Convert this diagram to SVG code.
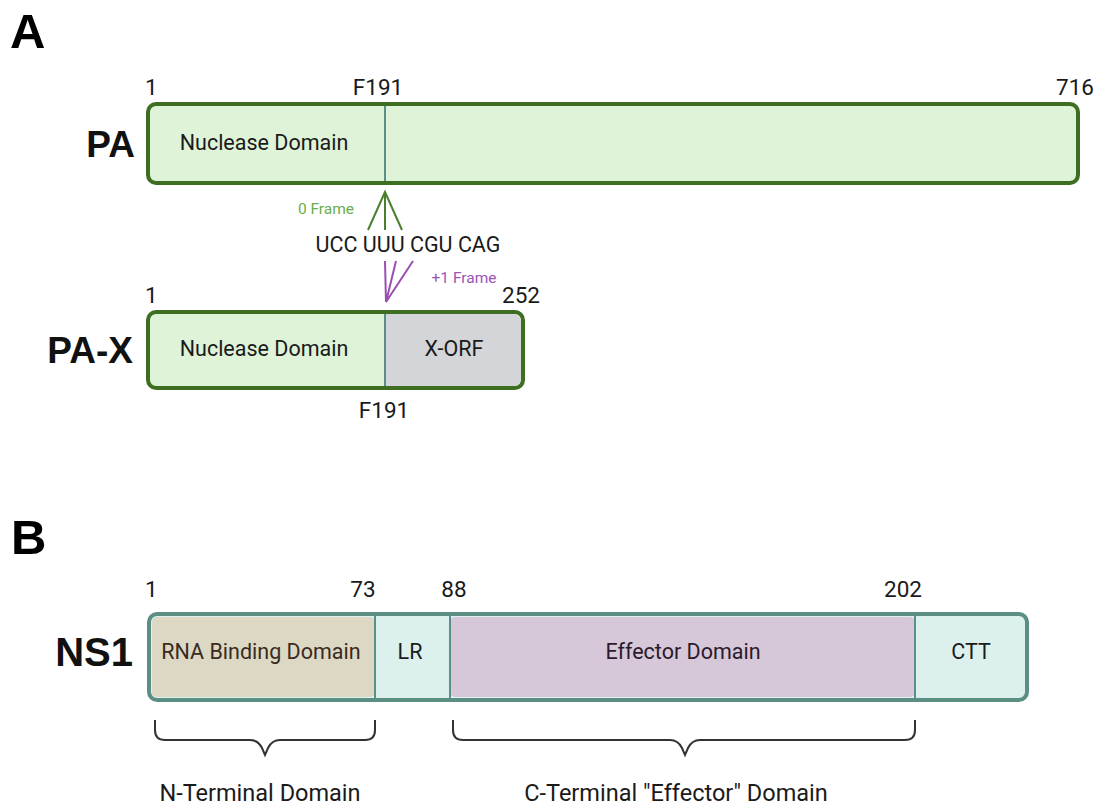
<svg xmlns="http://www.w3.org/2000/svg" width="1100" height="806" viewBox="0 0 1100 806">
<style>
text{font-family:Roboto,"Liberation Sans",sans-serif;fill:#1a1a1a}
.big{font-family:"Liberation Sans",Arial,sans-serif;font-weight:bold;font-size:49px;fill:#000}
.name{font-family:"Liberation Sans",Arial,sans-serif;font-weight:bold;fill:#111}
.num{font-size:22.5px}
.dom{font-size:21.5px}
.pa{stroke:#3d6e22;stroke-width:4}
.ns{stroke:#5b8f84;stroke-width:4}
.div{stroke:#5b8f8a;stroke-width:2}
.brace{fill:none;stroke:#333;stroke-width:2}
</style>
<text class="big" x="10" y="48">A</text>
<text class="big" x="11" y="554">B</text>

<g id="PA">
<text class="name" x="135" y="157" text-anchor="end" font-size="37">PA</text>
<rect x="148" y="104" width="930" height="79" rx="8" fill="#dff3d9" class="pa"/>
<line x1="385" y1="106" x2="385" y2="181" class="div"/>
<text class="dom" x="264" y="150" text-anchor="middle">Nuclease Domain</text>
<text class="num" x="145" y="95">1</text>
<text class="num" x="378" y="95" text-anchor="middle">F191</text>
<text class="num" x="1094" y="95" text-anchor="end">716</text>
</g>

<g id="PA-X">
<text class="name" x="133" y="363" text-anchor="end" font-size="37">PA-X</text>
<rect x="148" y="312" width="375" height="76" rx="8" fill="#dff3d9" class="pa"/>
<path d="M385,314 H513 a8,8 0 0 1 8,8 V378 a8,8 0 0 1 -8,8 H385 Z" fill="#d3d5d8"/>
<line x1="385" y1="314" x2="385" y2="386" class="div"/>
<text class="dom" x="264" y="356" text-anchor="middle">Nuclease Domain</text>
<text class="dom" x="454" y="356" text-anchor="middle">X-ORF</text>
<text class="num" x="145" y="303">1</text>
<text class="num" x="521" y="303" text-anchor="middle">252</text>
<text class="num" x="384" y="418" text-anchor="middle">F191</text>
</g>

<g id="codons">
<text x="408" y="252" text-anchor="middle" font-size="21.5">UCC UUU CGU CAG</text>
<text x="326" y="214" text-anchor="middle" font-size="15.5" style="fill:#6aae4a">0 Frame</text>
<text x="464" y="283" text-anchor="middle" font-size="15.5" style="fill:#9a55b5">+1 Frame</text>
</g>

<g id="connectors">
<path d="M368,230 L385,192 L402,230 M385,192 V230" fill="none" stroke="#4a7f2e" stroke-width="2"/>
<path d="M385,261 L386,302 M396,261 L386,302 M413,261 L386,302" fill="none" stroke="#9a4fb0" stroke-width="2"/>
</g>

<g id="NS1">
<text class="name" x="133" y="666" text-anchor="end" font-size="40">NS1</text>
<rect x="149" y="614" width="878" height="86" rx="8" fill="#dcf1ee" class="ns"/>
<rect x="152" y="617" width="223" height="80" rx="5" fill="#dcd8c4"/>
<rect x="450" y="617" width="465" height="80" rx="5" fill="#d6c7d9"/>
<line x1="375" y1="616" x2="375" y2="698" class="div"/>
<line x1="450" y1="616" x2="450" y2="698" class="div"/>
<line x1="915" y1="616" x2="915" y2="698" class="div"/>
<text class="dom" x="261" y="659" text-anchor="middle" style="fill:#3a2a20">RNA Binding Domain</text>
<text class="dom" x="410" y="659" text-anchor="middle">LR</text>
<text class="dom" x="683" y="659" text-anchor="middle" style="fill:#2a1a2a">Effector Domain</text>
<text class="dom" x="971" y="659" text-anchor="middle">CTT</text>
<text class="num" x="145" y="597">1</text>
<text class="num" x="363" y="597" text-anchor="middle">73</text>
<text class="num" x="454" y="597" text-anchor="middle">88</text>
<text class="num" x="903" y="597" text-anchor="middle">202</text>
</g>

<g id="braces">
<path class="brace" d="M155,720 V730 Q155,740 165,740 H250 Q258,740 262,748 L265,755 L268,748 Q272,740 280,740 H365 Q375,740 375,730 V720"/>
<path class="brace" d="M453,720 V730 Q453,740 463,740 H670 Q678,740 682,748 L685,755 L688,748 Q692,740 700,740 H905 Q915,740 915,730 V720"/>
<text x="260" y="801" text-anchor="middle" font-size="23.5">N-Terminal Domain</text>
<text x="676" y="801" text-anchor="middle" font-size="23.5">C-Terminal "Effector" Domain</text>
</g>
</svg>
